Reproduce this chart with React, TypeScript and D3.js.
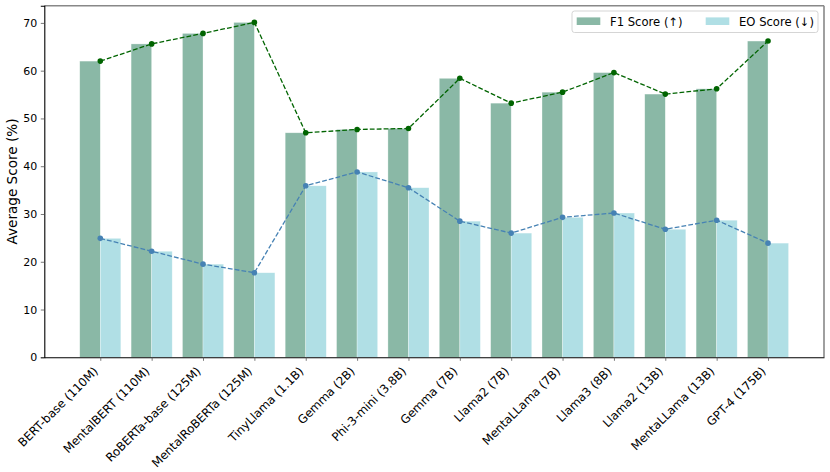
import { FC, useEffect, useRef } from 'react';
import * as d3 from 'd3';

const models = [
  'BERT-base (110M)',
  'MentalBERT (110M)',
  'RoBERTa-base (125M)',
  'MentalRoBERTa (125M)',
  'TinyLlama (1.1B)',
  'Gemma (2B)',
  'Phi-3-mini (3.8B)',
  'Gemma (7B)',
  'Llama2 (7B)',
  'MentaLLama (7B)',
  'Llama3 (8B)',
  'Llama2 (13B)',
  'MentaLLama (13B)',
  'GPT-4 (175B)',
];

const f1Scores = [62.0, 65.6, 67.8, 70.1, 47.0, 47.7, 47.9, 58.4, 53.2, 55.5, 59.6, 55.1, 56.2, 66.2];
const eoScores = [24.9, 22.2, 19.5, 17.7, 35.9, 38.8, 35.5, 28.5, 26.0, 29.3, 30.2, 26.8, 28.7, 23.9];

const yTicks = [0, 10, 20, 30, 40, 50, 60, 70];

const Chart: FC<{ width?: number; height?: number }> = ({ width = 830, height = 472 }) => {
  const svgRef = useRef<SVGSVGElement | null>(null);

  const margin = { top: 5.7, right: 6, bottom: 114.7, left: 44.3 };

  useEffect(() => {
    if (!svgRef.current) return;
    const svg = d3.select(svgRef.current);
    svg.selectAll('*').remove();

    const font = 'DejaVu Sans, sans-serif';

    const x = d3
      .scaleLinear()
      .domain([-1.09, 14.09])
      .range([margin.left, width - margin.right]);

    const y = d3
      .scaleLinear()
      .domain([0, 73.6])
      .range([height - margin.bottom, margin.top]);

    const barW = x(0.4) - x(0);
    const idx = models.map((_, i) => i);

    // bars
    svg.append('g')
      .selectAll('rect')
      .data(idx)
      .enter()
      .append('rect')
      .attr('x', (i) => x(i - 0.4))
      .attr('y', (i) => y(f1Scores[i]))
      .attr('width', barW)
      .attr('height', (i) => y(0) - y(f1Scores[i]))
      .attr('fill', '#8ab8a6')
      .attr('stroke', '#ffffff')
      .attr('stroke-opacity', 0.5)
      .attr('stroke-width', 0.6);

    svg.append('g')
      .selectAll('rect')
      .data(idx)
      .enter()
      .append('rect')
      .attr('x', (i) => x(i))
      .attr('y', (i) => y(eoScores[i]))
      .attr('width', barW)
      .attr('height', (i) => y(0) - y(eoScores[i]))
      .attr('fill', '#b0dfe5')
      .attr('stroke', '#ffffff')
      .attr('stroke-opacity', 0.5)
      .attr('stroke-width', 0.6);

    // dashed lines with markers
    const drawLine = (values: number[], color: string) => {
      const line = d3.line<number>()
        .x((i) => x(i))
        .y((i) => y(values[i]));
      svg.append('path')
        .datum(idx)
        .attr('fill', 'none')
        .attr('stroke', color)
        .attr('stroke-width', 1.3)
        .attr('stroke-dasharray', '4.8,2.1')
        .attr('d', line);
      svg.append('g')
        .selectAll('circle')
        .data(idx)
        .enter()
        .append('circle')
        .attr('cx', (i) => x(i))
        .attr('cy', (i) => y(values[i]))
        .attr('r', 2.8)
        .attr('fill', color);
    };
    drawLine(f1Scores, '#006400');
    drawLine(eoScores, '#4682b4');

    // frame: top/right grey, left/bottom black
    const x0 = x.range()[0];
    const x1 = x.range()[1];
    const y0 = y.range()[0];
    const y1 = y.range()[1];
    svg.append('line').attr('x1', x0).attr('x2', x1).attr('y1', y1).attr('y2', y1)
      .attr('stroke', '#888').attr('stroke-width', 1.6);
    svg.append('line').attr('x1', x1).attr('x2', x1).attr('y1', y1).attr('y2', y0)
      .attr('stroke', '#888').attr('stroke-width', 1.6);

    // Y axis
    const yAxis = svg.append('g')
      .attr('transform', `translate(${x0},0)`)
      .call(d3.axisLeft(y).tickValues(yTicks).tickSize(3.5).tickPadding(3.5));
    yAxis.select('.domain').attr('stroke', '#000').attr('stroke-width', 1.1);
    yAxis.selectAll('.tick line').attr('stroke', '#555').attr('stroke-width', 0.8);
    yAxis.selectAll('.tick text')
      .attr('font-family', font)
      .attr('font-size', 11)
      .attr('fill', '#000');

    // X axis
    const xAxis = svg.append('g')
      .attr('transform', `translate(0,${y0})`)
      .call(
        d3.axisBottom(x)
          .tickValues(idx)
          .tickSize(3.5)
          .tickSizeOuter(0)
          .tickFormat((d) => models[d as number])
      );
    xAxis.select('.domain').attr('stroke', '#000').attr('stroke-width', 1.1);
    xAxis.selectAll('.tick line').attr('stroke', '#555').attr('stroke-width', 0.8);
    xAxis.selectAll('.tick text')
      .attr('font-family', font)
      .attr('font-size', 11.8)
      .attr('fill', '#000')
      .attr('text-anchor', 'end')
      .attr('dy', null)
      .attr('y', 0)
      .attr('transform', 'translate(-2,14.6) rotate(-45)');

    // Y label
    svg.append('text')
      .attr('transform', `translate(17.3,${(y0 + y1) / 2}) rotate(-90)`)
      .attr('text-anchor', 'middle')
      .attr('font-family', font)
      .attr('font-size', 13.6)
      .attr('fill', '#000')
      .text('Average Score (%)');

    // legend
    const legend = svg.append('g');
    legend.append('rect')
      .attr('x', 572)
      .attr('y', 11)
      .attr('width', 246)
      .attr('height', 21.5)
      .attr('rx', 2.5)
      .attr('fill', '#fff')
      .attr('fill-opacity', 0.8)
      .attr('stroke', '#d0d0d0')
      .attr('stroke-width', 0.9);
    const items = [
      { label: 'F1 Score (↑)', color: '#8ab8a6', px: 576.7, tx: 610 },
      { label: 'EO Score (↓)', color: '#b0dfe5', px: 705.7, tx: 739 },
    ];
    items.forEach((it) => {
      legend.append('rect')
        .attr('x', it.px)
        .attr('y', 17.4)
        .attr('width', 23.6)
        .attr('height', 7.6)
        .attr('fill', it.color);
      legend.append('text')
        .attr('x', it.tx)
        .attr('y', 25.6)
        .attr('font-family', font)
        .attr('font-size', 11.6)
        .attr('fill', '#000')
        .text(it.label);
    });
  }, []);

  return (
    <svg
      ref={svgRef}
      width={width}
      height={height}
      style={{ position: 'absolute', left: 0, top: 0, background: '#fff' }}
    />
  );
};

export default function App() {
  return <Chart />;
}
